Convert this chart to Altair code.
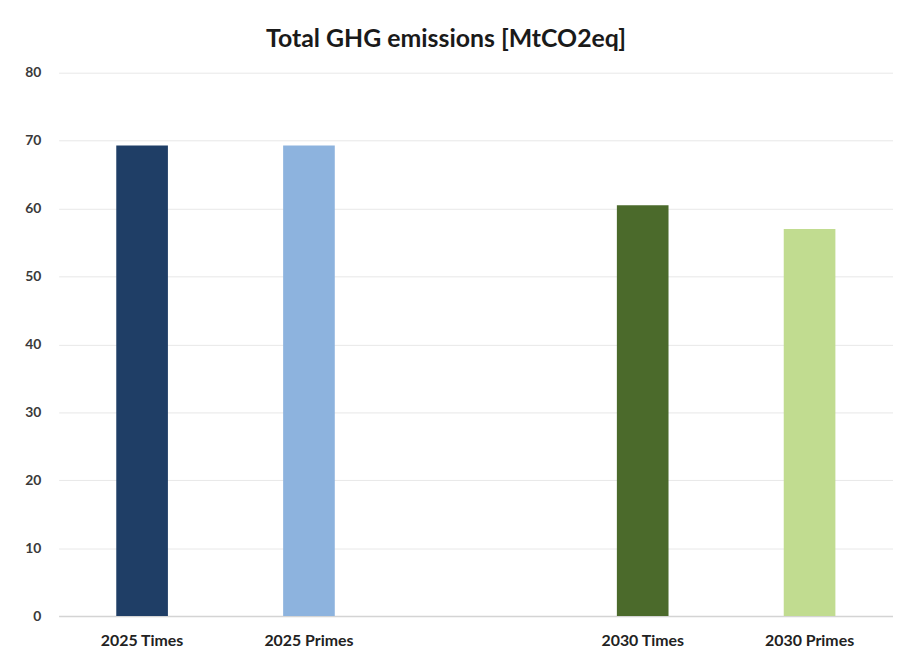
import altair as alt
import pandas as pd

categories = ["2025 Times", "2025 Primes", " ", "2030 Times", "2030 Primes"]
bar_labels = ["2025 Times", "2025 Primes", "2030 Times", "2030 Primes"]
values = [69.3, 69.3, 60.5, 57.0]
colors = ["#1f3e66", "#8db3de", "#4b6a2b", "#c1dc90"]

df = pd.DataFrame({"scenario": bar_labels, "value": values})

chart = alt.Chart(df).mark_bar(size=52).encode(
    x=alt.X("scenario:N", scale=alt.Scale(domain=categories), sort=categories,
            axis=alt.Axis(title=None, labelAngle=0, labelFont="Lato", labelFontSize=16,
                          labelFontWeight="bold", labelColor="#222222", ticks=False,
                          domainColor="#d4d4d4", domainWidth=1.5, labelPadding=17)),
    y=alt.Y("value:Q", scale=alt.Scale(domain=[0, 80]),
            axis=alt.Axis(title=None, values=[0, 10, 20, 30, 40, 50, 60, 70, 80],
                          labelFont="Lato", labelFontSize=14, labelFontWeight="bold",
                          labelColor="#3a3a3a", ticks=False, domain=False,
                          gridColor="#e8e8e8", labelPadding=18)),
    color=alt.Color("scenario:N", scale=alt.Scale(domain=bar_labels, range=colors), legend=None),
).properties(
    width=840, height=547,
    title=alt.TitleParams("Total GHG emissions [MtCO2eq]", font="Lato", fontSize=25,
                          fontWeight="bold", color="#1a1a1a", anchor="middle", dx=-30, offset=14),
    autosize=alt.AutoSizeParams(type="none"),
    padding={"left": 51, "top": 63, "right": 0, "bottom": 30},
).configure_view(stroke=None)

chart.save("out.html", embed_options={"renderer": "svg", "actions": False})
